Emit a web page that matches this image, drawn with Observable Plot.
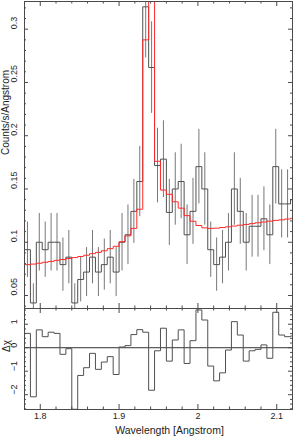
<!DOCTYPE html>
<html><head><meta charset="utf-8">
<script src="https://cdn.jsdelivr.net/npm/d3@7"></script>
<script src="https://cdn.jsdelivr.net/npm/@observablehq/plot@0.6"></script>
<style>
html,body{margin:0;padding:0;background:#fff;}
#chart{width:293px;}
#chart svg{display:block;}
</style></head><body><div id="chart"></div>
<script>
// ---- data ----
const binStart = 1.78;
const binWidth = 0.0075;
const counts = [0.093,0.043,0.100,0.093,0.100,0.100,0.079,0.086,0.043,0.065,
  0.072,0.086,0.072,0.079,0.086,0.072,0.100,0.107,0.129,0.157,
  0.321,0.264,0.172,0.178,0.128,0.150,0.157,0.107,0.129,0.171,
  0.150,0.093,0.079,0.086,0.100,0.150,0.129,0.100,0.115,0.115,
  0.122,0.107,0.171,0.136,0.136,0.140];
const errors = [0.026,0.018,0.027,0.026,0.027,0.027,0.025,0.025,0.018,0.021,
  0.023,0.025,0.023,0.024,0.025,0.023,0.027,0.028,0.030,0.033,
  0.048,0.043,0.035,0.036,0.031,0.034,0.035,0.028,0.031,0.035,
  0.034,0.026,0.025,0.025,0.027,0.034,0.031,0.027,0.029,0.029,
  0.030,0.028,0.035,0.032,0.032,0.032];
const model = [0.0790,0.0795,0.0803,0.0812,0.0820,0.0830,0.0838,0.0847,0.0856,0.0866,
  0.0878,0.0893,0.0905,0.0920,0.0940,0.0962,0.1005,0.1060,0.1130,0.1310,
  0.2900,0.3400,0.1760,0.1490,0.1450,0.1380,0.1320,0.1250,0.1197,0.1157,
  0.1135,0.1130,0.1132,0.1138,0.1145,0.1152,0.1160,0.1167,0.1175,0.1183,
  0.1190,0.1198,0.1205,0.1210,0.1218,0.1225];
const resid = [0.61,-2.09,0.76,0.47,0.66,0.61,-0.28,-0.04,-2.62,-1.18,
  -0.85,-0.24,-0.92,-0.61,-0.38,-1.14,0.03,0.09,0.56,0.77,
  0.66,-1.81,-0.13,0.83,-0.57,0.33,0.76,-0.67,0.30,1.61,
  1.18,-0.78,-1.41,-1.07,-0.10,1.11,0.54,-0.57,-0.13,-0.07,
  0.12,-0.45,1.51,0.54,0.47,0.50];

const xTicks = [1.8, 1.9, 2.0, 2.1];
const xTickLabels = ["1.8", "1.9", "2", "2.1"];
const yTicks = [0.05, 0.1, 0.15, 0.2, 0.25, 0.3];
const yTickLabels = ["0.05", "0.1", "0.15", "0.2", "0.25", "0.3"];
const rTicks = [-2, -1, 0, 1];
const rTickLabels = ["\u22122", "\u22121", "0", "1"];
const xTitle = "Wavelength [Angstrom]";
const yTitle = "Counts/s/Angstrom";
const rTitle = "\u0394\u03c7";

// ---- layout ----
const W = 293, ML = 24, MR = 1;
const innerW = W - ML - MR;
const topH = 308, topMT = 1;
const topInner = topH - topMT;
const botH = 130, botMB = 29;
const botInner = botH - botMB;
const xDomain = [1.78, 2.12];
const font = "'Liberation Sans', Arial, Helvetica, sans-serif";
const axisColor = "#4a4a4a";

const bins = counts.map((c, i) => ({
  lo: binStart + i * binWidth, hi: binStart + (i + 1) * binWidth,
  c, e: errors[i], m: model[i], r: resid[i]
}));
const steps = key => [...bins.map(b => ({x: b.lo, v: b[key]})),
  {x: bins[bins.length - 1].hi, v: bins[bins.length - 1][key]}];

const xMinor = d3.range(1.78, 2.1201, 0.02).filter(v => !xTicks.some(t => Math.abs(t - v) < 1e-6));
const yMinor = d3.range(0.04, 0.3261, 0.01).filter(v => !yTicks.some(t => Math.abs(t - v) < 1e-6));
const rMinor = d3.range(-2.6, 1.67, 0.2).filter(v => !rTicks.some(t => Math.abs(t - v) < 1e-6));

function frameTicks(inner, yMaj, yMin) {
  const s = {stroke: axisColor, strokeWidth: 1};
  return [
    Plot.tickY(yMaj, {y: d => d, insetRight: innerW - 4, ...s}),
    Plot.tickY(yMin, {y: d => d, insetRight: innerW - 2, ...s}),
    Plot.tickY(yMaj, {y: d => d, insetLeft: innerW - 4, ...s}),
    Plot.tickY(yMin, {y: d => d, insetLeft: innerW - 2, ...s}),
    Plot.tickX(xTicks, {x: d => d, insetBottom: inner - 5, ...s}),
    Plot.tickX(xMinor, {x: d => d, insetBottom: inner - 2.5, ...s}),
    Plot.tickX(xTicks, {x: d => d, insetTop: inner - 5, ...s}),
    Plot.tickX(xMinor, {x: d => d, insetTop: inner - 2.5, ...s}),
  ];
}

const topPlot = Plot.plot({
  width: W, height: topH,
  marginTop: topMT, marginBottom: 0, marginLeft: ML, marginRight: MR,
  x: {domain: xDomain, axis: null},
  y: {domain: [0.0378, 0.326], axis: null},
  style: {fontFamily: font, fontSize: "9px", background: "#fff", overflow: "visible", color: "#222"},
  marks: [
    Plot.ruleX(bins, {x: d => (d.lo + d.hi) / 2, y1: d => d.c - d.e, y2: d => d.c + d.e,
      stroke: "#777", strokeWidth: 1, clip: true}),
    Plot.line(steps("c"), {x: "x", y: "v", curve: "step-after", stroke: "#505050", strokeWidth: 1, clip: true}),
    Plot.line(steps("m"), {x: "x", y: "v", curve: "step-after", stroke: "#ff2a2a", strokeWidth: 1, clip: true}),
    ...frameTicks(topInner, yTicks, yMinor),
    Plot.frame({stroke: axisColor, strokeWidth: 1}),
    Plot.text(yTicks, {y: d => d, text: (d, i) => yTickLabels[i], frameAnchor: "left",
      rotate: -90, dx: -10, fontSize: 9, fill: "#222"}),
    Plot.text([yTitle], {frameAnchor: "left", rotate: -90, dx: -19, fontSize: 10, fill: "#222"})
  ]
});

const botPlot = Plot.plot({
  width: W, height: botH,
  marginTop: 0, marginBottom: botMB, marginLeft: ML, marginRight: MR,
  x: {domain: xDomain, axis: null},
  y: {domain: [-2.63, 1.67], axis: null},
  style: {fontFamily: font, fontSize: "9px", background: "#fff", overflow: "visible", color: "#222"},
  marks: [
    Plot.ruleY([0], {stroke: "#333", strokeWidth: 1}),
    Plot.line(steps("r"), {x: "x", y: "v", curve: "step-after", stroke: "#505050", strokeWidth: 1, clip: true}),
    ...frameTicks(botInner, rTicks, rMinor),
    Plot.frame({stroke: axisColor, strokeWidth: 1}),
    Plot.text(rTicks, {y: d => d, text: (d, i) => rTickLabels[i], frameAnchor: "left",
      rotate: -90, dx: -10, fontSize: 9, fill: "#222"}),
    Plot.text(xTicks, {x: d => d, text: (d, i) => xTickLabels[i], frameAnchor: "bottom",
      dy: 9, fontSize: 9, fill: "#222"}),
    Plot.text([rTitle], {frameAnchor: "left", rotate: -90, dx: -18, dy: -7, fontSize: 10, fill: "#222"}),
    Plot.text([xTitle], {frameAnchor: "bottom", dx: 11, dy: 24, fontSize: 10.5, fill: "#222"})
  ]
});

const root = document.getElementById("chart");
root.appendChild(topPlot);
root.appendChild(botPlot);
</script>
</body></html>
